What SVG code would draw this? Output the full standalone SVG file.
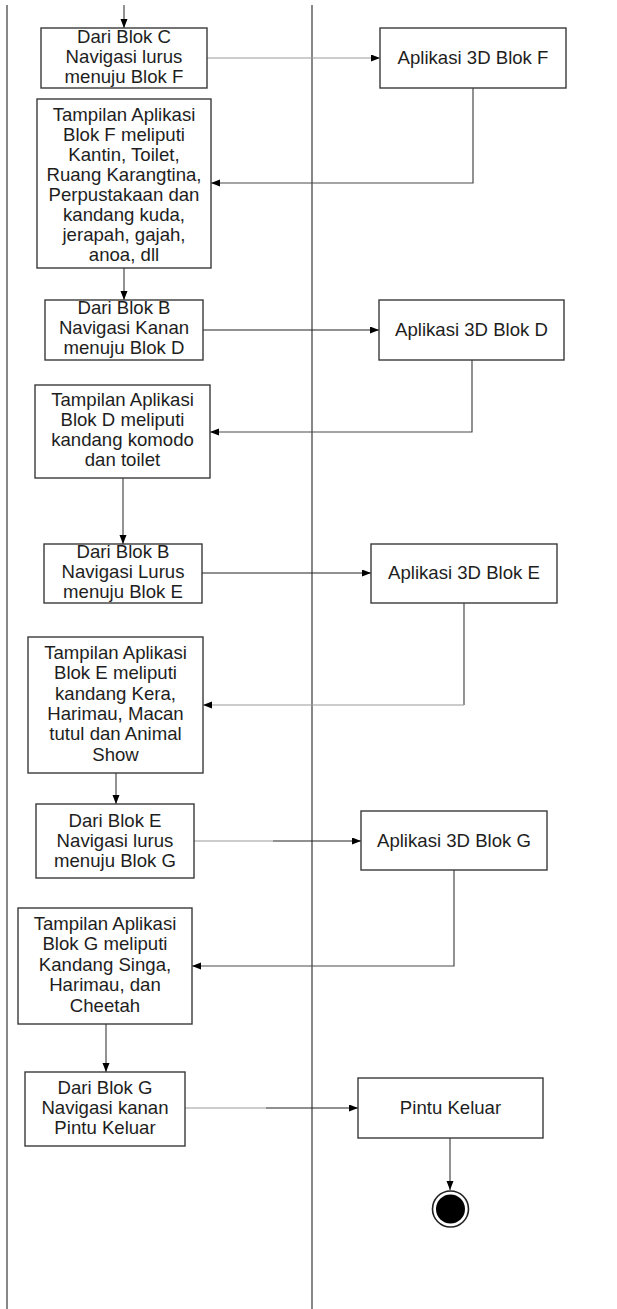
<svg xmlns="http://www.w3.org/2000/svg" width="617" height="1309" viewBox="0 0 617 1309">
<style>
.box{fill:#fff;stroke:#3a3a3a;stroke-width:1.4}
.t{font-family:"Liberation Sans",Arial,sans-serif;font-size:18.6px;fill:#1e1e1e;text-anchor:middle}
.lane{stroke:#6a6a6a;stroke-width:1.6;fill:none}
.c{fill:none;stroke:#4a4a4a;stroke-width:1.2}
.cl{fill:none;stroke:#9a9a9a;stroke-width:1.1}
.cd{fill:none;stroke:#222;stroke-width:1.2}
</style>
<defs>
<marker id="ah" markerUnits="userSpaceOnUse" markerWidth="10" markerHeight="8" refX="9" refY="3.5" orient="auto">
<path d="M0,0 L9,3.5 L0,7 z" fill="#000"/>
</marker>
</defs>
<rect width="617" height="1309" fill="#fff"/>
<g id="lanes">
<line class="lane" x1="7" y1="5" x2="7" y2="1309"/>
<line class="lane" x1="312" y1="5" x2="312" y2="1309"/>
</g>
<g id="connectors">
<line class="c" x1="124" y1="5" x2="124" y2="28" marker-end="url(#ah)"/>
<line class="cl" x1="207" y1="58" x2="380" y2="58" marker-end="url(#ah)"/>
<path class="c" d="M473,88 V183 H211" marker-end="url(#ah)"/>
<line class="c" x1="124" y1="268" x2="124" y2="300" marker-end="url(#ah)"/>
<line class="cd" x1="203" y1="330" x2="379" y2="330" marker-end="url(#ah)"/>
<path class="c" d="M472,360 V432 H210" marker-end="url(#ah)"/>
<line class="c" x1="123" y1="478" x2="123" y2="544" marker-end="url(#ah)"/>
<line class="cd" x1="202" y1="573" x2="371" y2="573" marker-end="url(#ah)"/>
<line class="c" x1="464" y1="603" x2="464" y2="705"/>
<line class="cl" x1="464" y1="705" x2="203" y2="705" stroke="#c8c8c8" marker-end="url(#ah)"/>
<line class="c" x1="116" y1="773" x2="116" y2="804" marker-end="url(#ah)"/>
<line class="cl" x1="194" y1="841" x2="273" y2="841"/>
<line class="cd" x1="273" y1="841" x2="361" y2="841" marker-end="url(#ah)"/>
<path class="c" d="M454,870 V966 H192" marker-end="url(#ah)"/>
<line class="c" x1="106" y1="1024" x2="106" y2="1072" marker-end="url(#ah)"/>
<line class="cl" x1="185" y1="1108" x2="266" y2="1108"/>
<line class="cd" x1="266" y1="1108" x2="358" y2="1108" marker-end="url(#ah)"/>
<line class="c" x1="450" y1="1138" x2="450" y2="1190" marker-end="url(#ah)"/>
</g>
<g id="n1">
<rect class="box" x="41" y="28" width="166" height="60"/>
<text class="t" x="124" y="43">Dari Blok C</text>
<text class="t" x="124" y="63">Navigasi lurus</text>
<text class="t" x="124" y="83">menuju Blok F</text>
</g>
<g id="n2">
<rect class="box" x="380" y="28" width="186" height="60"/>
<text class="t" x="473" y="63.5">Aplikasi 3D Blok F</text>
</g>
<g id="n3">
<rect class="box" x="37" y="99" width="174" height="169"/>
<text class="t" x="124" y="120.5">Tampilan Aplikasi</text>
<text class="t" x="124" y="140.5">Blok F meliputi</text>
<text class="t" x="124" y="160.5">Kantin, Toilet,</text>
<text class="t" x="124" y="180.5">Ruang Karangtina,</text>
<text class="t" x="124" y="200.5">Perpustakaan dan</text>
<text class="t" x="124" y="220.5">kandang kuda,</text>
<text class="t" x="124" y="240.5">jerapah, gajah,</text>
<text class="t" x="124" y="260.5">anoa, dll</text>
</g>
<g id="n4">
<rect class="box" x="45" y="300" width="158" height="60"/>
<text class="t" x="124" y="314">Dari Blok B</text>
<text class="t" x="124" y="334">Navigasi Kanan</text>
<text class="t" x="124" y="354">menuju Blok D</text>
</g>
<g id="n5">
<rect class="box" x="379" y="300" width="185" height="60"/>
<text class="t" x="471.5" y="335.5">Aplikasi 3D Blok D</text>
</g>
<g id="n6">
<rect class="box" x="35" y="385" width="175" height="93"/>
<text class="t" x="122.5" y="406">Tampilan Aplikasi</text>
<text class="t" x="122.5" y="426">Blok D meliputi</text>
<text class="t" x="122.5" y="446">kandang komodo</text>
<text class="t" x="122.5" y="466">dan toilet</text>
</g>
<g id="n7">
<rect class="box" x="44" y="544" width="158" height="59"/>
<text class="t" x="123" y="558">Dari Blok B</text>
<text class="t" x="123" y="578">Navigasi Lurus</text>
<text class="t" x="123" y="598">menuju Blok E</text>
</g>
<g id="n8">
<rect class="box" x="371" y="544" width="186" height="59"/>
<text class="t" x="464" y="579">Aplikasi 3D Blok E</text>
</g>
<g id="n9">
<rect class="box" x="28" y="637" width="175" height="136"/>
<text class="t" x="115.5" y="659">Tampilan Aplikasi</text>
<text class="t" x="115.5" y="679.3">Blok E meliputi</text>
<text class="t" x="115.5" y="699.6">kandang Kera,</text>
<text class="t" x="115.5" y="719.9">Harimau, Macan</text>
<text class="t" x="115.5" y="740.2">tutul dan Animal</text>
<text class="t" x="115.5" y="760.5">Show</text>
</g>
<g id="n10">
<rect class="box" x="36" y="804" width="158" height="74"/>
<text class="t" x="115" y="826.5">Dari Blok E</text>
<text class="t" x="115" y="846.5">Navigasi lurus</text>
<text class="t" x="115" y="866.5">menuju Blok G</text>
</g>
<g id="n11">
<rect class="box" x="361" y="811" width="186" height="59"/>
<text class="t" x="454" y="846.5">Aplikasi 3D Blok G</text>
</g>
<g id="n12">
<rect class="box" x="18" y="908" width="174" height="116"/>
<text class="t" x="105" y="930">Tampilan Aplikasi</text>
<text class="t" x="105" y="950.4">Blok G meliputi</text>
<text class="t" x="105" y="970.8">Kandang Singa,</text>
<text class="t" x="105" y="991.2">Harimau, dan</text>
<text class="t" x="105" y="1011.6">Cheetah</text>
</g>
<g id="n13">
<rect class="box" x="25" y="1072" width="160" height="74"/>
<text class="t" x="105" y="1093.5">Dari Blok G</text>
<text class="t" x="105" y="1113.8">Navigasi kanan</text>
<text class="t" x="105" y="1134">Pintu Keluar</text>
</g>
<g id="n14">
<rect class="box" x="358" y="1078" width="185" height="60"/>
<text class="t" x="450.5" y="1114">Pintu Keluar</text>
</g>
<g id="end">
<circle cx="450.5" cy="1209" r="18" fill="#fff" stroke="#222" stroke-width="1.6"/>
<circle cx="450.5" cy="1209" r="14.5" fill="#000"/>
</g>
</svg>
